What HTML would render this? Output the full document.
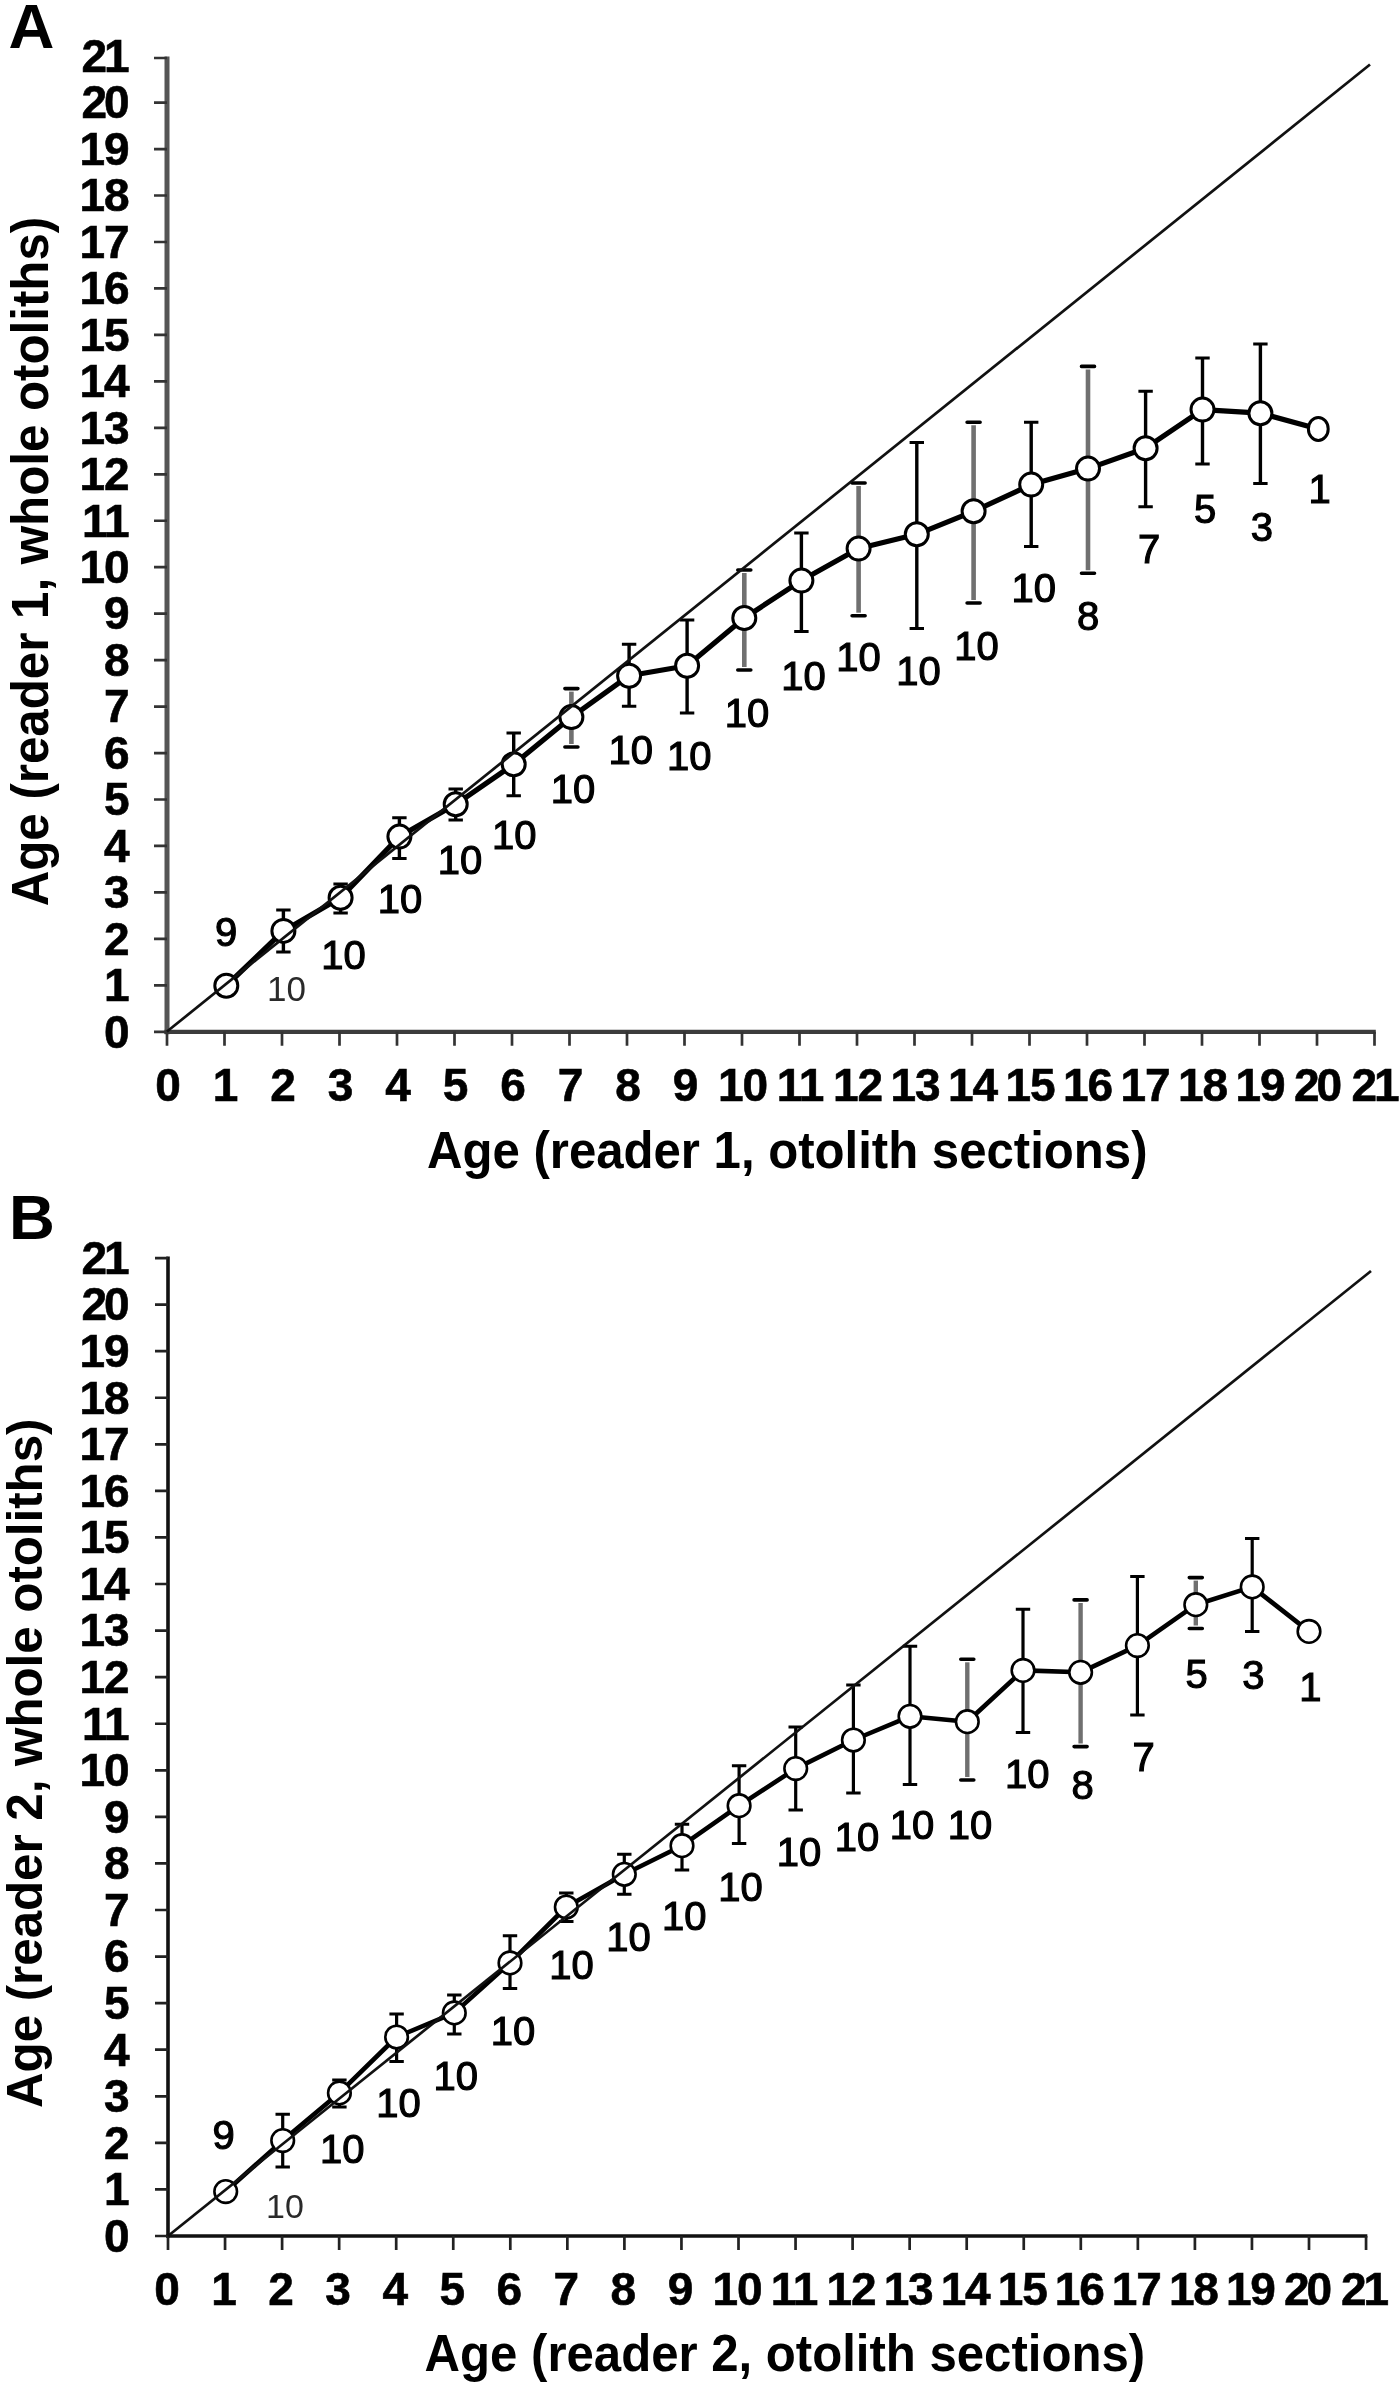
<!DOCTYPE html>
<html lang="en">
<head>
<meta charset="utf-8">
<title>Age bias plots</title>
<style>
html,body{margin:0;padding:0;background:#fff;}
body{width:1400px;height:2386px;overflow:hidden;}
svg{display:block;filter:blur(0.55px);}
text{font-kerning:normal;}
</style>
</head>
<body>
<svg width="1400" height="2386" viewBox="0 0 1400 2386">
<rect width="1400" height="2386" fill="#fff"/>
<g id="panelA">
<line x1="167" y1="56.5" x2="167" y2="1034.3" stroke="#555" stroke-width="5"/>
<line x1="164.5" y1="1031.8" x2="1375.8" y2="1031.8" stroke="#3c3c3c" stroke-width="4.2"/>
<path d="M154 1031.8H167M167 1031.8V1045.8M154 985.34H167M224.5 1031.8V1045.8M154 938.88H167M282 1031.8V1045.8M154 892.42H167M339.5 1031.8V1045.8M154 845.96H167M397 1031.8V1045.8M154 799.5H167M454.5 1031.8V1045.8M154 753.04H167M512 1031.8V1045.8M154 706.58H167M569.5 1031.8V1045.8M154 660.12H167M627 1031.8V1045.8M154 613.66H167M684.5 1031.8V1045.8M154 567.2H167M742 1031.8V1045.8M154 520.74H167M799.5 1031.8V1045.8M154 474.28H167M857 1031.8V1045.8M154 427.82H167M914.5 1031.8V1045.8M154 381.36H167M972 1031.8V1045.8M154 334.9H167M1029.5 1031.8V1045.8M154 288.44H167M1087 1031.8V1045.8M154 241.98H167M1144.5 1031.8V1045.8M154 195.52H167M1202 1031.8V1045.8M154 149.06H167M1259.5 1031.8V1045.8M154 102.6H167M1317 1031.8V1045.8M154 58H167M1374.5 1031.8V1045.8" stroke="#333" stroke-width="2.7" fill="none"/>
<g font-family="'Liberation Sans', Arial, Helvetica, sans-serif" font-weight="bold" font-size="46" fill="#000" stroke="#000" stroke-width="0.6">
<g text-anchor="end">
<text x="129.5" y="1047.6">0</text>
<text x="129.5" y="1001.14">1</text>
<text x="129.5" y="954.68">2</text>
<text x="129.5" y="908.22">3</text>
<text x="129.5" y="861.76">4</text>
<text x="129.5" y="815.3">5</text>
<text x="129.5" y="768.84">6</text>
<text x="129.5" y="722.38">7</text>
<text x="129.5" y="675.92">8</text>
<text x="129.5" y="629.46">9</text>
<text x="129.5" y="583">1<tspan dx="-1.2">0</tspan></text>
<text x="129.5" y="536.54">1<tspan dx="-1.2">1</tspan></text>
<text x="129.5" y="490.08">1<tspan dx="-1.2">2</tspan></text>
<text x="129.5" y="443.62">1<tspan dx="-1.2">3</tspan></text>
<text x="129.5" y="397.16">1<tspan dx="-1.2">4</tspan></text>
<text x="129.5" y="350.7">1<tspan dx="-1.2">5</tspan></text>
<text x="129.5" y="304.24">1<tspan dx="-1.2">6</tspan></text>
<text x="129.5" y="257.78">1<tspan dx="-1.2">7</tspan></text>
<text x="129.5" y="211.32">1<tspan dx="-1.2">8</tspan></text>
<text x="129.5" y="164.86">1<tspan dx="-1.2">9</tspan></text>
<text x="129.5" y="118.4">2<tspan dx="-3.2">0</tspan></text>
<text x="129.5" y="71.94">2<tspan dx="-3.2">1</tspan></text>
</g><g text-anchor="middle">
<text x="168" y="1100.8">0</text>
<text x="225.5" y="1100.8">1</text>
<text x="283" y="1100.8">2</text>
<text x="340.5" y="1100.8">3</text>
<text x="398" y="1100.8">4</text>
<text x="455.5" y="1100.8">5</text>
<text x="513" y="1100.8">6</text>
<text x="570.5" y="1100.8">7</text>
<text x="628" y="1100.8">8</text>
<text x="685.5" y="1100.8">9</text>
<text x="743" y="1100.8">1<tspan dx="-1.2">0</tspan></text>
<text x="800.5" y="1100.8">1<tspan dx="-1.2">1</tspan></text>
<text x="858" y="1100.8">1<tspan dx="-1.2">2</tspan></text>
<text x="915.5" y="1100.8">1<tspan dx="-1.2">3</tspan></text>
<text x="973" y="1100.8">1<tspan dx="-1.2">4</tspan></text>
<text x="1030.5" y="1100.8">1<tspan dx="-1.2">5</tspan></text>
<text x="1088" y="1100.8">1<tspan dx="-1.2">6</tspan></text>
<text x="1145.5" y="1100.8">1<tspan dx="-1.2">7</tspan></text>
<text x="1203" y="1100.8">1<tspan dx="-1.2">8</tspan></text>
<text x="1260.5" y="1100.8">1<tspan dx="-1.2">9</tspan></text>
<text x="1318" y="1100.8">2<tspan dx="-3.2">0</tspan></text>
<text x="1375.5" y="1100.8">2<tspan dx="-3.2">1</tspan></text>
</g></g>
<path d="M283.4 910V952" stroke="#000" stroke-width="3.4" fill="none"/>
<path d="M276.2 910h14.4M276.2 952h14.4" stroke="#000" stroke-width="3" fill="none"/>
<path d="M340.6 884V913" stroke="#000" stroke-width="3.4" fill="none"/>
<path d="M333.4 884h14.4M333.4 913h14.4" stroke="#000" stroke-width="3" fill="none"/>
<path d="M399.4 817.7V858.6" stroke="#000" stroke-width="3.4" fill="none"/>
<path d="M392.2 817.7h14.4M392.2 858.6h14.4" stroke="#000" stroke-width="3" fill="none"/>
<path d="M455.7 789V820" stroke="#000" stroke-width="3.4" fill="none"/>
<path d="M448.5 789h14.4M448.5 820h14.4" stroke="#000" stroke-width="3" fill="none"/>
<path d="M513.7 733V795.7" stroke="#000" stroke-width="3.4" fill="none"/>
<path d="M506.5 733h14.4M506.5 795.7h14.4" stroke="#000" stroke-width="3" fill="none"/>
<path d="M571.4 691.6V744" stroke="#707070" stroke-width="4.6" fill="none"/>
<path d="M564.9 688.6h13M564.9 747h13" stroke="#000" stroke-width="3.6" stroke-linecap="round" fill="none"/>
<path d="M629.1 644.3V706.3" stroke="#000" stroke-width="3.4" fill="none"/>
<path d="M621.9 644.3h14.4M621.9 706.3h14.4" stroke="#000" stroke-width="3" fill="none"/>
<path d="M687.1 620V712.9" stroke="#000" stroke-width="3.4" fill="none"/>
<path d="M679.9 620h14.4M679.9 712.9h14.4" stroke="#000" stroke-width="3" fill="none"/>
<path d="M744.3 573V667" stroke="#707070" stroke-width="4.6" fill="none"/>
<path d="M737.8 570h13M737.8 670h13" stroke="#000" stroke-width="3.6" stroke-linecap="round" fill="none"/>
<path d="M801.4 532.9V631.4" stroke="#000" stroke-width="3.4" fill="none"/>
<path d="M794.2 532.9h14.4M794.2 631.4h14.4" stroke="#000" stroke-width="3" fill="none"/>
<path d="M858.6 486V612.7" stroke="#707070" stroke-width="4.6" fill="none"/>
<path d="M852.1 483h13M852.1 615.7h13" stroke="#000" stroke-width="3.6" stroke-linecap="round" fill="none"/>
<path d="M916.8 442.6V628.4" stroke="#000" stroke-width="3.4" fill="none"/>
<path d="M909.6 442.6h14.4M909.6 628.4h14.4" stroke="#000" stroke-width="3" fill="none"/>
<path d="M973.6 425.2V600" stroke="#707070" stroke-width="4.6" fill="none"/>
<path d="M967.1 422.2h13M967.1 603h13" stroke="#000" stroke-width="3.6" stroke-linecap="round" fill="none"/>
<path d="M1031.2 422.2V546.6" stroke="#000" stroke-width="3.4" fill="none"/>
<path d="M1024 422.2h14.4M1024 546.6h14.4" stroke="#000" stroke-width="3" fill="none"/>
<path d="M1088 369.4V570.3" stroke="#707070" stroke-width="4.6" fill="none"/>
<path d="M1081.5 366.4h13M1081.5 573.3h13" stroke="#000" stroke-width="3.6" stroke-linecap="round" fill="none"/>
<path d="M1145.6 391.3V506.8" stroke="#000" stroke-width="3.4" fill="none"/>
<path d="M1138.4 391.3h14.4M1138.4 506.8h14.4" stroke="#000" stroke-width="3" fill="none"/>
<path d="M1202.5 357.9V464.1" stroke="#000" stroke-width="3.4" fill="none"/>
<path d="M1195.3 357.9h14.4M1195.3 464.1h14.4" stroke="#000" stroke-width="3" fill="none"/>
<path d="M1260.4 344.1V483.4" stroke="#000" stroke-width="3.4" fill="none"/>
<path d="M1253.2 344.1h14.4M1253.2 483.4h14.4" stroke="#000" stroke-width="3" fill="none"/>
<polyline points="226.3,985.7 283.4,930.9 340.6,897.7 399.4,836.6 455.7,804.3 513.7,764.3 571.4,717.1 629.1,675.7 687.1,665.7 744.3,618 801.4,580.6 858.6,548.6 916.8,534.3 973.6,511.3 1031.2,484.6 1088,468.6 1145.6,448.2 1202.5,409.6 1260.4,413.2 1318.3,428.9" fill="none" stroke="#000" stroke-width="5.2" stroke-linejoin="round"/>
<ellipse cx="226.3" cy="985.7" rx="11.5" ry="11.5" fill="#fff" stroke="#000" stroke-width="3"/>
<ellipse cx="283.4" cy="930.9" rx="11.5" ry="11.5" fill="#fff" stroke="#000" stroke-width="3"/>
<ellipse cx="340.6" cy="897.7" rx="11.5" ry="11.5" fill="#fff" stroke="#000" stroke-width="3"/>
<ellipse cx="399.4" cy="836.6" rx="11.5" ry="11.5" fill="#fff" stroke="#000" stroke-width="3"/>
<ellipse cx="455.7" cy="804.3" rx="11.5" ry="11.5" fill="#fff" stroke="#000" stroke-width="3"/>
<ellipse cx="513.7" cy="764.3" rx="11.5" ry="11.5" fill="#fff" stroke="#000" stroke-width="3"/>
<ellipse cx="571.4" cy="717.1" rx="11.5" ry="11.5" fill="#fff" stroke="#000" stroke-width="3"/>
<ellipse cx="629.1" cy="675.7" rx="11.5" ry="11.5" fill="#fff" stroke="#000" stroke-width="3"/>
<ellipse cx="687.1" cy="665.7" rx="11.5" ry="11.5" fill="#fff" stroke="#000" stroke-width="3"/>
<ellipse cx="744.3" cy="618" rx="11.5" ry="11.5" fill="#fff" stroke="#000" stroke-width="3"/>
<ellipse cx="801.4" cy="580.6" rx="11.5" ry="11.5" fill="#fff" stroke="#000" stroke-width="3"/>
<ellipse cx="858.6" cy="548.6" rx="11.5" ry="11.5" fill="#fff" stroke="#000" stroke-width="3"/>
<ellipse cx="916.8" cy="534.3" rx="11.5" ry="11.5" fill="#fff" stroke="#000" stroke-width="3"/>
<ellipse cx="973.6" cy="511.3" rx="11.5" ry="11.5" fill="#fff" stroke="#000" stroke-width="3"/>
<ellipse cx="1031.2" cy="484.6" rx="11.5" ry="11.5" fill="#fff" stroke="#000" stroke-width="3"/>
<ellipse cx="1088" cy="468.6" rx="11.5" ry="11.5" fill="#fff" stroke="#000" stroke-width="3"/>
<ellipse cx="1145.6" cy="448.2" rx="11.5" ry="11.5" fill="#fff" stroke="#000" stroke-width="3"/>
<ellipse cx="1202.5" cy="409.6" rx="11.5" ry="11.5" fill="#fff" stroke="#000" stroke-width="3"/>
<ellipse cx="1260.4" cy="413.2" rx="11.5" ry="11.5" fill="#fff" stroke="#000" stroke-width="3"/>
<ellipse cx="1318.3" cy="428.9" rx="9.9" ry="11.5" fill="#fff" stroke="#000" stroke-width="3"/>
<line x1="167" y1="1031.5" x2="1370" y2="64.5" stroke="#111" stroke-width="2.7"/>
<g font-family="'Liberation Sans', Arial, Helvetica, sans-serif" text-anchor="middle" fill="#000">
<text x="226" y="945.7" font-size="40" stroke="#000" stroke-width="1.15">9</text>
<text x="286.5" y="1001.4" font-size="35" fill="#2a2a2a">10</text>
<text x="343.6" y="968.6" font-size="40" stroke="#000" stroke-width="1.15">10</text>
<text x="400" y="912.9" font-size="40" stroke="#000" stroke-width="1.15">10</text>
<text x="460" y="874.3" font-size="40" stroke="#000" stroke-width="1.15">10</text>
<text x="514.3" y="848.6" font-size="40" stroke="#000" stroke-width="1.15">10</text>
<text x="573" y="803" font-size="40" stroke="#000" stroke-width="1.15">10</text>
<text x="630.7" y="764.3" font-size="40" stroke="#000" stroke-width="1.15">10</text>
<text x="689.3" y="770" font-size="40" stroke="#000" stroke-width="1.15">10</text>
<text x="747" y="727" font-size="40" stroke="#000" stroke-width="1.15">10</text>
<text x="803.6" y="690" font-size="40" stroke="#000" stroke-width="1.15">10</text>
<text x="858.6" y="671.4" font-size="40" stroke="#000" stroke-width="1.15">10</text>
<text x="918.6" y="685.2" font-size="40" stroke="#000" stroke-width="1.15">10</text>
<text x="976.5" y="660" font-size="40" stroke="#000" stroke-width="1.15">10</text>
<text x="1033.7" y="602.3" font-size="40" stroke="#000" stroke-width="1.15">10</text>
<text x="1088" y="630.2" font-size="40" stroke="#000" stroke-width="1.15">8</text>
<text x="1149" y="563.3" font-size="40" stroke="#000" stroke-width="1.15">7</text>
<text x="1205" y="522.7" font-size="40" stroke="#000" stroke-width="1.15">5</text>
<text x="1261.9" y="541" font-size="40" stroke="#000" stroke-width="1.15">3</text>
<text x="1319.5" y="502.8" font-size="40" stroke="#000" stroke-width="1.15">1</text>
</g>
<text x="427" y="1168" font-family="'Liberation Sans', Arial, Helvetica, sans-serif" font-weight="bold" font-size="51.5" textLength="720.5" lengthAdjust="spacingAndGlyphs">Age (reader 1, otolith sections)</text>
<text transform="translate(48.1 906.3) rotate(-90)" font-family="'Liberation Sans', Arial, Helvetica, sans-serif" font-weight="bold" font-size="51.5" textLength="689.5" lengthAdjust="spacingAndGlyphs">Age (reader 1, whole otoliths)</text>
<text x="8.5" y="48" font-family="'Liberation Sans', Arial, Helvetica, sans-serif" font-weight="bold" font-size="63.5">A</text>
</g>
<g id="panelB">
<line x1="168" y1="1256.53" x2="168" y2="2237.8" stroke="#111" stroke-width="3.6"/>
<line x1="166.2" y1="2236" x2="1367.35" y2="2236" stroke="#111" stroke-width="3.6"/>
<path d="M155 2236H168M168 2236V2250M155 2189.43H168M225.05 2236V2250M155 2142.86H168M282.1 2236V2250M155 2096.29H168M339.15 2236V2250M155 2049.72H168M396.2 2236V2250M155 2003.15H168M453.25 2236V2250M155 1956.58H168M510.3 2236V2250M155 1910.01H168M567.35 2236V2250M155 1863.44H168M624.4 2236V2250M155 1816.87H168M681.45 2236V2250M155 1770.3H168M738.5 2236V2250M155 1723.73H168M795.55 2236V2250M155 1677.16H168M852.6 2236V2250M155 1630.59H168M909.65 2236V2250M155 1584.02H168M966.7 2236V2250M155 1537.45H168M1023.75 2236V2250M155 1490.88H168M1080.8 2236V2250M155 1444.31H168M1137.85 2236V2250M155 1397.74H168M1194.9 2236V2250M155 1351.17H168M1251.95 2236V2250M155 1304.6H168M1309 2236V2250M155 1258.03H168M1366.05 2236V2250" stroke="#222" stroke-width="2.7" fill="none"/>
<g font-family="'Liberation Sans', Arial, Helvetica, sans-serif" font-weight="bold" font-size="46" fill="#000" stroke="#000" stroke-width="0.6">
<g text-anchor="end">
<text x="129.5" y="2251.8">0</text>
<text x="129.5" y="2205.23">1</text>
<text x="129.5" y="2158.66">2</text>
<text x="129.5" y="2112.09">3</text>
<text x="129.5" y="2065.52">4</text>
<text x="129.5" y="2018.95">5</text>
<text x="129.5" y="1972.38">6</text>
<text x="129.5" y="1925.81">7</text>
<text x="129.5" y="1879.24">8</text>
<text x="129.5" y="1832.67">9</text>
<text x="129.5" y="1786.1">1<tspan dx="-1.2">0</tspan></text>
<text x="129.5" y="1739.53">1<tspan dx="-1.2">1</tspan></text>
<text x="129.5" y="1692.96">1<tspan dx="-1.2">2</tspan></text>
<text x="129.5" y="1646.39">1<tspan dx="-1.2">3</tspan></text>
<text x="129.5" y="1599.82">1<tspan dx="-1.2">4</tspan></text>
<text x="129.5" y="1553.25">1<tspan dx="-1.2">5</tspan></text>
<text x="129.5" y="1506.68">1<tspan dx="-1.2">6</tspan></text>
<text x="129.5" y="1460.11">1<tspan dx="-1.2">7</tspan></text>
<text x="129.5" y="1413.54">1<tspan dx="-1.2">8</tspan></text>
<text x="129.5" y="1366.97">1<tspan dx="-1.2">9</tspan></text>
<text x="129.5" y="1320.4">2<tspan dx="-3.2">0</tspan></text>
<text x="129.5" y="1273.83">2<tspan dx="-3.2">1</tspan></text>
</g><g text-anchor="middle">
<text x="167" y="2305">0</text>
<text x="224.05" y="2305">1</text>
<text x="281.1" y="2305">2</text>
<text x="338.15" y="2305">3</text>
<text x="395.2" y="2305">4</text>
<text x="452.25" y="2305">5</text>
<text x="509.3" y="2305">6</text>
<text x="566.35" y="2305">7</text>
<text x="623.4" y="2305">8</text>
<text x="680.45" y="2305">9</text>
<text x="737.5" y="2305">1<tspan dx="-1.2">0</tspan></text>
<text x="794.55" y="2305">1<tspan dx="-1.2">1</tspan></text>
<text x="851.6" y="2305">1<tspan dx="-1.2">2</tspan></text>
<text x="908.65" y="2305">1<tspan dx="-1.2">3</tspan></text>
<text x="965.7" y="2305">1<tspan dx="-1.2">4</tspan></text>
<text x="1022.75" y="2305">1<tspan dx="-1.2">5</tspan></text>
<text x="1079.8" y="2305">1<tspan dx="-1.2">6</tspan></text>
<text x="1136.85" y="2305">1<tspan dx="-1.2">7</tspan></text>
<text x="1193.9" y="2305">1<tspan dx="-1.2">8</tspan></text>
<text x="1250.95" y="2305">1<tspan dx="-1.2">9</tspan></text>
<text x="1308" y="2305">2<tspan dx="-3.2">0</tspan></text>
<text x="1365.05" y="2305">2<tspan dx="-3.2">1</tspan></text>
</g></g>
<path d="M282.7 2114.2V2167" stroke="#000" stroke-width="3.2" fill="none"/>
<path d="M275.5 2114.2h14.4M275.5 2167h14.4" stroke="#000" stroke-width="3" fill="none"/>
<path d="M339.4 2080V2107" stroke="#000" stroke-width="3.2" fill="none"/>
<path d="M332.2 2080h14.4M332.2 2107h14.4" stroke="#000" stroke-width="3" fill="none"/>
<path d="M396.6 2014V2061.4" stroke="#000" stroke-width="3.2" fill="none"/>
<path d="M389.4 2014h14.4M389.4 2061.4h14.4" stroke="#000" stroke-width="3" fill="none"/>
<path d="M454.3 1995V2034" stroke="#000" stroke-width="3.2" fill="none"/>
<path d="M447.1 1995h14.4M447.1 2034h14.4" stroke="#000" stroke-width="3" fill="none"/>
<path d="M510 1935.7V1988.6" stroke="#000" stroke-width="3.2" fill="none"/>
<path d="M502.8 1935.7h14.4M502.8 1988.6h14.4" stroke="#000" stroke-width="3" fill="none"/>
<path d="M566.3 1893V1921.4" stroke="#000" stroke-width="3.2" fill="none"/>
<path d="M559.1 1893h14.4M559.1 1921.4h14.4" stroke="#000" stroke-width="3" fill="none"/>
<path d="M624.3 1854.3V1894.3" stroke="#000" stroke-width="3.2" fill="none"/>
<path d="M617.1 1854.3h14.4M617.1 1894.3h14.4" stroke="#000" stroke-width="3" fill="none"/>
<path d="M682 1824.3V1870" stroke="#000" stroke-width="3.2" fill="none"/>
<path d="M674.8 1824.3h14.4M674.8 1870h14.4" stroke="#000" stroke-width="3" fill="none"/>
<path d="M739.1 1765.7V1843.4" stroke="#000" stroke-width="3.2" fill="none"/>
<path d="M731.9 1765.7h14.4M731.9 1843.4h14.4" stroke="#000" stroke-width="3" fill="none"/>
<path d="M795.7 1727V1810" stroke="#000" stroke-width="3.2" fill="none"/>
<path d="M788.5 1727h14.4M788.5 1810h14.4" stroke="#000" stroke-width="3" fill="none"/>
<path d="M853.4 1685V1792.9" stroke="#000" stroke-width="3.2" fill="none"/>
<path d="M846.2 1685h14.4M846.2 1792.9h14.4" stroke="#000" stroke-width="3" fill="none"/>
<path d="M910 1646.3V1784.4" stroke="#000" stroke-width="3.2" fill="none"/>
<path d="M902.8 1646.3h14.4M902.8 1784.4h14.4" stroke="#000" stroke-width="3" fill="none"/>
<path d="M967.3 1662.3V1777" stroke="#707070" stroke-width="4.4" fill="none"/>
<path d="M960.8 1659.3h13M960.8 1780h13" stroke="#000" stroke-width="3.6" stroke-linecap="round" fill="none"/>
<path d="M1023 1609.2V1732.5" stroke="#000" stroke-width="3.2" fill="none"/>
<path d="M1015.8 1609.2h14.4M1015.8 1732.5h14.4" stroke="#000" stroke-width="3" fill="none"/>
<path d="M1080.6 1602.9V1743.6" stroke="#707070" stroke-width="4.4" fill="none"/>
<path d="M1074.1 1599.9h13M1074.1 1746.6h13" stroke="#000" stroke-width="3.6" stroke-linecap="round" fill="none"/>
<path d="M1137.4 1576.5V1715" stroke="#000" stroke-width="3.2" fill="none"/>
<path d="M1130.2 1576.5h14.4M1130.2 1715h14.4" stroke="#000" stroke-width="3" fill="none"/>
<path d="M1195.8 1580.6V1625.5" stroke="#707070" stroke-width="4.4" fill="none"/>
<path d="M1189.3 1577.6h13M1189.3 1628.5h13" stroke="#000" stroke-width="3.6" stroke-linecap="round" fill="none"/>
<path d="M1252.2 1538.6V1631.4" stroke="#000" stroke-width="3.2" fill="none"/>
<path d="M1245 1538.6h14.4M1245 1631.4h14.4" stroke="#000" stroke-width="3" fill="none"/>
<polyline points="225.7,2191.6 282.7,2140.6 339.4,2092.9 396.6,2037 454.3,2012.9 510,1962.9 566.3,1907 624.3,1874.3 682,1845.7 739.1,1805.7 795.7,1768.6 853.4,1740 910,1716.3 967.3,1721.7 1023,1670.4 1080.6,1672.3 1137.4,1645.6 1195.8,1604.7 1252.2,1586.9 1309,1631.4" fill="none" stroke="#000" stroke-width="4.6" stroke-linejoin="round"/>
<ellipse cx="225.7" cy="2191.6" rx="11.3" ry="11.3" fill="#fff" stroke="#000" stroke-width="2.6"/>
<ellipse cx="282.7" cy="2140.6" rx="11.3" ry="11.3" fill="#fff" stroke="#000" stroke-width="2.6"/>
<ellipse cx="339.4" cy="2092.9" rx="11.3" ry="11.3" fill="#fff" stroke="#000" stroke-width="2.6"/>
<ellipse cx="396.6" cy="2037" rx="11.3" ry="11.3" fill="#fff" stroke="#000" stroke-width="2.6"/>
<ellipse cx="454.3" cy="2012.9" rx="11.3" ry="11.3" fill="#fff" stroke="#000" stroke-width="2.6"/>
<ellipse cx="510" cy="1962.9" rx="11.3" ry="11.3" fill="#fff" stroke="#000" stroke-width="2.6"/>
<ellipse cx="566.3" cy="1907" rx="11.3" ry="11.3" fill="#fff" stroke="#000" stroke-width="2.6"/>
<ellipse cx="624.3" cy="1874.3" rx="11.3" ry="11.3" fill="#fff" stroke="#000" stroke-width="2.6"/>
<ellipse cx="682" cy="1845.7" rx="11.3" ry="11.3" fill="#fff" stroke="#000" stroke-width="2.6"/>
<ellipse cx="739.1" cy="1805.7" rx="11.3" ry="11.3" fill="#fff" stroke="#000" stroke-width="2.6"/>
<ellipse cx="795.7" cy="1768.6" rx="11.3" ry="11.3" fill="#fff" stroke="#000" stroke-width="2.6"/>
<ellipse cx="853.4" cy="1740" rx="11.3" ry="11.3" fill="#fff" stroke="#000" stroke-width="2.6"/>
<ellipse cx="910" cy="1716.3" rx="11.3" ry="11.3" fill="#fff" stroke="#000" stroke-width="2.6"/>
<ellipse cx="967.3" cy="1721.7" rx="11.3" ry="11.3" fill="#fff" stroke="#000" stroke-width="2.6"/>
<ellipse cx="1023" cy="1670.4" rx="11.3" ry="11.3" fill="#fff" stroke="#000" stroke-width="2.6"/>
<ellipse cx="1080.6" cy="1672.3" rx="11.3" ry="11.3" fill="#fff" stroke="#000" stroke-width="2.6"/>
<ellipse cx="1137.4" cy="1645.6" rx="11.3" ry="11.3" fill="#fff" stroke="#000" stroke-width="2.6"/>
<ellipse cx="1195.8" cy="1604.7" rx="11.3" ry="11.3" fill="#fff" stroke="#000" stroke-width="2.6"/>
<ellipse cx="1252.2" cy="1586.9" rx="11.3" ry="11.3" fill="#fff" stroke="#000" stroke-width="2.6"/>
<ellipse cx="1309" cy="1631.4" rx="11.3" ry="11.3" fill="#fff" stroke="#000" stroke-width="2.6"/>
<line x1="168" y1="2236" x2="1371" y2="1271" stroke="#111" stroke-width="2.7"/>
<g font-family="'Liberation Sans', Arial, Helvetica, sans-serif" text-anchor="middle" fill="#000">
<text x="223.6" y="2148.6" font-size="40" stroke="#000" stroke-width="1.15">9</text>
<text x="285" y="2217.5" font-size="34" fill="#2a2a2a">10</text>
<text x="342.2" y="2162.9" font-size="40" stroke="#000" stroke-width="1.15">10</text>
<text x="398.6" y="2117" font-size="40" stroke="#000" stroke-width="1.15">10</text>
<text x="455.7" y="2090" font-size="40" stroke="#000" stroke-width="1.15">10</text>
<text x="512.9" y="2044.9" font-size="40" stroke="#000" stroke-width="1.15">10</text>
<text x="571.4" y="1978.6" font-size="40" stroke="#000" stroke-width="1.15">10</text>
<text x="628.6" y="1951.4" font-size="40" stroke="#000" stroke-width="1.15">10</text>
<text x="684.3" y="1930" font-size="40" stroke="#000" stroke-width="1.15">10</text>
<text x="740.6" y="1901.4" font-size="40" stroke="#000" stroke-width="1.15">10</text>
<text x="799" y="1865.7" font-size="40" stroke="#000" stroke-width="1.15">10</text>
<text x="857.1" y="1851.4" font-size="40" stroke="#000" stroke-width="1.15">10</text>
<text x="912" y="1839" font-size="40" stroke="#000" stroke-width="1.15">10</text>
<text x="970.1" y="1839" font-size="40" stroke="#000" stroke-width="1.15">10</text>
<text x="1027.2" y="1788.2" font-size="40" stroke="#000" stroke-width="1.15">10</text>
<text x="1082.5" y="1798.6" font-size="40" stroke="#000" stroke-width="1.15">8</text>
<text x="1143.7" y="1770.7" font-size="40" stroke="#000" stroke-width="1.15">7</text>
<text x="1196.5" y="1687.9" font-size="40" stroke="#000" stroke-width="1.15">5</text>
<text x="1253.3" y="1689" font-size="40" stroke="#000" stroke-width="1.15">3</text>
<text x="1310.3" y="1700.9" font-size="40" stroke="#000" stroke-width="1.15">1</text>
</g>
<text x="424.6" y="2371" font-family="'Liberation Sans', Arial, Helvetica, sans-serif" font-weight="bold" font-size="51.5" textLength="720.5" lengthAdjust="spacingAndGlyphs">Age (reader 2, otolith sections)</text>
<text transform="translate(42.3 2108) rotate(-90)" font-family="'Liberation Sans', Arial, Helvetica, sans-serif" font-weight="bold" font-size="49.5" textLength="689.5" lengthAdjust="spacingAndGlyphs">Age (reader 2, whole otoliths)</text>
<text x="9" y="1238.5" font-family="'Liberation Sans', Arial, Helvetica, sans-serif" font-weight="bold" font-size="63.5">B</text>
</g>
</svg>
</body>
</html>
